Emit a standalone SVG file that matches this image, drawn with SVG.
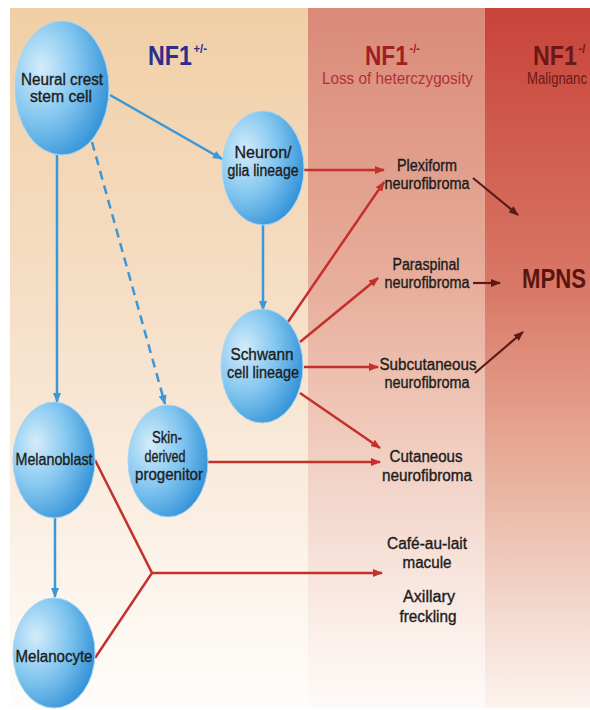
<svg xmlns="http://www.w3.org/2000/svg" width="590" height="710" viewBox="0 0 590 710">
<defs>
<linearGradient id="gL" x1="0" y1="0" x2="0" y2="1">
<stop offset="0" stop-color="#f0cfa6"/><stop offset="0.45" stop-color="#f6e0c9"/><stop offset="0.8" stop-color="#fcf3ea"/><stop offset="1" stop-color="#fffdfb"/>
</linearGradient>
<linearGradient id="gM" x1="0" y1="0" x2="0" y2="1">
<stop offset="0" stop-color="#da8a78"/><stop offset="0.4" stop-color="#e8ae9c"/><stop offset="0.65" stop-color="#f1d0c3"/><stop offset="0.9" stop-color="#fbf0eb"/><stop offset="1" stop-color="#fefaf8"/>
</linearGradient>
<linearGradient id="gR" x1="0" y1="0" x2="0" y2="1">
<stop offset="0" stop-color="#c8433a"/><stop offset="0.4" stop-color="#d97866"/><stop offset="0.65" stop-color="#e7ad99"/><stop offset="0.9" stop-color="#f6e0d7"/><stop offset="1" stop-color="#fcf2ee"/>
</linearGradient>
<radialGradient id="gB" cx="0.28" cy="0.35" r="0.85">
<stop offset="0" stop-color="#d4ecfa"/><stop offset="0.45" stop-color="#84c7f0"/><stop offset="1" stop-color="#2086d2"/>
</radialGradient>
<marker id="aB" markerWidth="10" markerHeight="8" refX="9" refY="4" orient="auto" markerUnits="userSpaceOnUse"><path d="M0,0 L10,4 L0,8 z" fill="#3a97d8"/></marker>
<marker id="aR" markerWidth="10" markerHeight="8" refX="9" refY="4" orient="auto" markerUnits="userSpaceOnUse"><path d="M0,0 L10,4 L0,8 z" fill="#c4302b"/></marker>
<marker id="aD" markerWidth="10" markerHeight="8" refX="9" refY="4" orient="auto" markerUnits="userSpaceOnUse"><path d="M0,0 L10,4 L0,8 z" fill="#5a1a16"/></marker>
</defs>
<style>
.node ellipse{fill:url(#gB);stroke:#a6d6f3;stroke-width:1}
.lbl{font-family:'Liberation Sans Narrow','Liberation Sans',Arial,sans-serif;font-size:16px;fill:#1c1c1c;stroke:#1c1c1c;stroke-width:0.35;text-anchor:middle}
.blue{stroke:#3a97d8;stroke-width:2.5;fill:none}
.red{stroke:#c4302b;stroke-width:2.5;fill:none}
.dark{stroke:#5a1a16;stroke-width:2.2;fill:none}
.hd{font-family:'Liberation Sans',Arial,sans-serif;font-weight:bold;font-size:27px}
.sup{font-size:13px}
.sub{font-family:'Liberation Sans Narrow','Liberation Sans',Arial,sans-serif;font-size:16px}
</style>
<rect width="590" height="710" fill="#ffffff"/>
<g id="background">
<rect x="10" y="8" width="298" height="700" fill="url(#gL)"/>
<rect x="308" y="8" width="177" height="700" fill="url(#gM)"/>
<rect x="485" y="8" width="105" height="700" fill="url(#gR)"/>
</g>
<g id="headers">
<text class="hd" transform="translate(148,65) scale(0.86,1)" fill="#2b2e8c">NF1<tspan class="sup" dx="2" dy="-12">+/-</tspan></text>
<text class="hd" transform="translate(365,65) scale(0.84,1)" fill="#a01e26">NF1<tspan class="sup" dx="2" dy="-12">-/-</tspan></text>
<text class="sub" x="322" y="84" fill="#b3303a" textLength="151" lengthAdjust="spacingAndGlyphs">Loss of heterczygosity</text>
<text class="hd" transform="translate(533,65) scale(0.86,1)" fill="#6a1818">NF1<tspan class="sup" dx="2" dy="-12">-/</tspan></text>
<text class="sub" x="527" y="84" fill="#6a1818" textLength="60" lengthAdjust="spacingAndGlyphs">Malignanc</text>
</g>
<g id="connectors">
<line class="blue" x1="110" y1="95" x2="222" y2="159" marker-end="url(#aB)"/>
<line class="blue" x1="57" y1="155" x2="57" y2="402" marker-end="url(#aB)"/>
<line class="blue" x1="92" y1="142" x2="165" y2="404" stroke-dasharray="9 6" marker-end="url(#aB)"/>
<line class="blue" x1="263" y1="225" x2="263" y2="310" marker-end="url(#aB)"/>
<line class="blue" x1="55" y1="518" x2="55" y2="597" marker-end="url(#aB)"/>
<line class="red" x1="304" y1="170" x2="384" y2="170" marker-end="url(#aR)"/>
<line class="red" x1="288" y1="322" x2="384" y2="182" marker-end="url(#aR)"/>
<line class="red" x1="300" y1="342" x2="378" y2="278" marker-end="url(#aR)"/>
<line class="red" x1="304" y1="367" x2="378" y2="367" marker-end="url(#aR)"/>
<line class="red" x1="300" y1="393" x2="380" y2="448" marker-end="url(#aR)"/>
<line class="red" x1="208" y1="462" x2="380" y2="462" marker-end="url(#aR)"/>
<polyline class="red" points="95,460 152,573 95,658"/>
<line class="red" x1="152" y1="573" x2="382" y2="573" marker-end="url(#aR)"/>
<line class="dark" x1="473" y1="178" x2="518" y2="215" marker-end="url(#aD)"/>
<line class="dark" x1="473" y1="283" x2="500" y2="283" marker-end="url(#aD)"/>
<line class="dark" x1="475" y1="373" x2="523" y2="332" marker-end="url(#aD)"/>
</g>
<g id="ncsc" class="node"><ellipse cx="62" cy="88" rx="47" ry="67"/>
<text class="lbl" x="62" y="85" textLength="82" lengthAdjust="spacingAndGlyphs">Neural crest</text>
<text class="lbl" x="61" y="102" textLength="62" lengthAdjust="spacingAndGlyphs">stem cell</text></g>
<g id="neuron" class="node"><ellipse cx="263" cy="168" rx="41" ry="57"/>
<text class="lbl" x="263" y="158" textLength="57" lengthAdjust="spacingAndGlyphs">Neuron/</text>
<text class="lbl" x="263" y="176" textLength="71" lengthAdjust="spacingAndGlyphs">glia lineage</text></g>
<g id="schwann" class="node"><ellipse cx="262" cy="366" rx="41" ry="57"/>
<text class="lbl" x="262" y="360" textLength="63" lengthAdjust="spacingAndGlyphs">Schwann</text>
<text class="lbl" x="263" y="378" textLength="72" lengthAdjust="spacingAndGlyphs">cell lineage</text></g>
<g id="melanoblast" class="node"><ellipse cx="54" cy="460" rx="41" ry="58"/>
<text class="lbl" x="54" y="465" textLength="77" lengthAdjust="spacingAndGlyphs">Melanoblast</text></g>
<g id="skin" class="node"><ellipse cx="168" cy="461" rx="40" ry="56"/>
<text class="lbl" x="167" y="443" textLength="30" lengthAdjust="spacingAndGlyphs">Skin-</text>
<text class="lbl" x="165" y="462" textLength="41" lengthAdjust="spacingAndGlyphs">derived</text>
<text class="lbl" x="169" y="480" textLength="68" lengthAdjust="spacingAndGlyphs">progenitor</text></g>
<g id="melanocyte" class="node"><ellipse cx="54" cy="653" rx="41" ry="55"/>
<text class="lbl" x="54" y="662" textLength="77" lengthAdjust="spacingAndGlyphs">Melanocyte</text></g>
<g id="plexiform"><text class="lbl" x="427" y="171" textLength="60" lengthAdjust="spacingAndGlyphs">Plexiform</text>
<text class="lbl" x="427" y="189" textLength="85" lengthAdjust="spacingAndGlyphs">neurofibroma</text></g>
<g id="paraspinal"><text class="lbl" x="426" y="270" textLength="67" lengthAdjust="spacingAndGlyphs">Paraspinal</text>
<text class="lbl" x="427" y="288" textLength="85" lengthAdjust="spacingAndGlyphs">neurofibroma</text></g>
<g id="subcutaneous"><text class="lbl" x="428" y="370" textLength="97" lengthAdjust="spacingAndGlyphs">Subcutaneous</text>
<text class="lbl" x="427" y="388" textLength="85" lengthAdjust="spacingAndGlyphs">neurofibroma</text></g>
<g id="cutaneous"><text class="lbl" x="426" y="462" textLength="73" lengthAdjust="spacingAndGlyphs">Cutaneous</text>
<text class="lbl" x="427" y="481" textLength="90" lengthAdjust="spacingAndGlyphs">neurofibroma</text></g>
<g id="cafe"><text class="lbl" x="427" y="549" textLength="80" lengthAdjust="spacingAndGlyphs">Café-au-lait</text>
<text class="lbl" x="427" y="568" textLength="49" lengthAdjust="spacingAndGlyphs">macule</text></g>
<g id="axillary"><text class="lbl" x="429" y="602" textLength="52" lengthAdjust="spacingAndGlyphs">Axillary</text>
<text class="lbl" x="428" y="622" textLength="57" lengthAdjust="spacingAndGlyphs">freckling</text></g>
<g id="mpnst"><text class="hd" x="522" y="288" fill="#5a1510" textLength="64" lengthAdjust="spacingAndGlyphs">MPNS</text></g>
</svg>
